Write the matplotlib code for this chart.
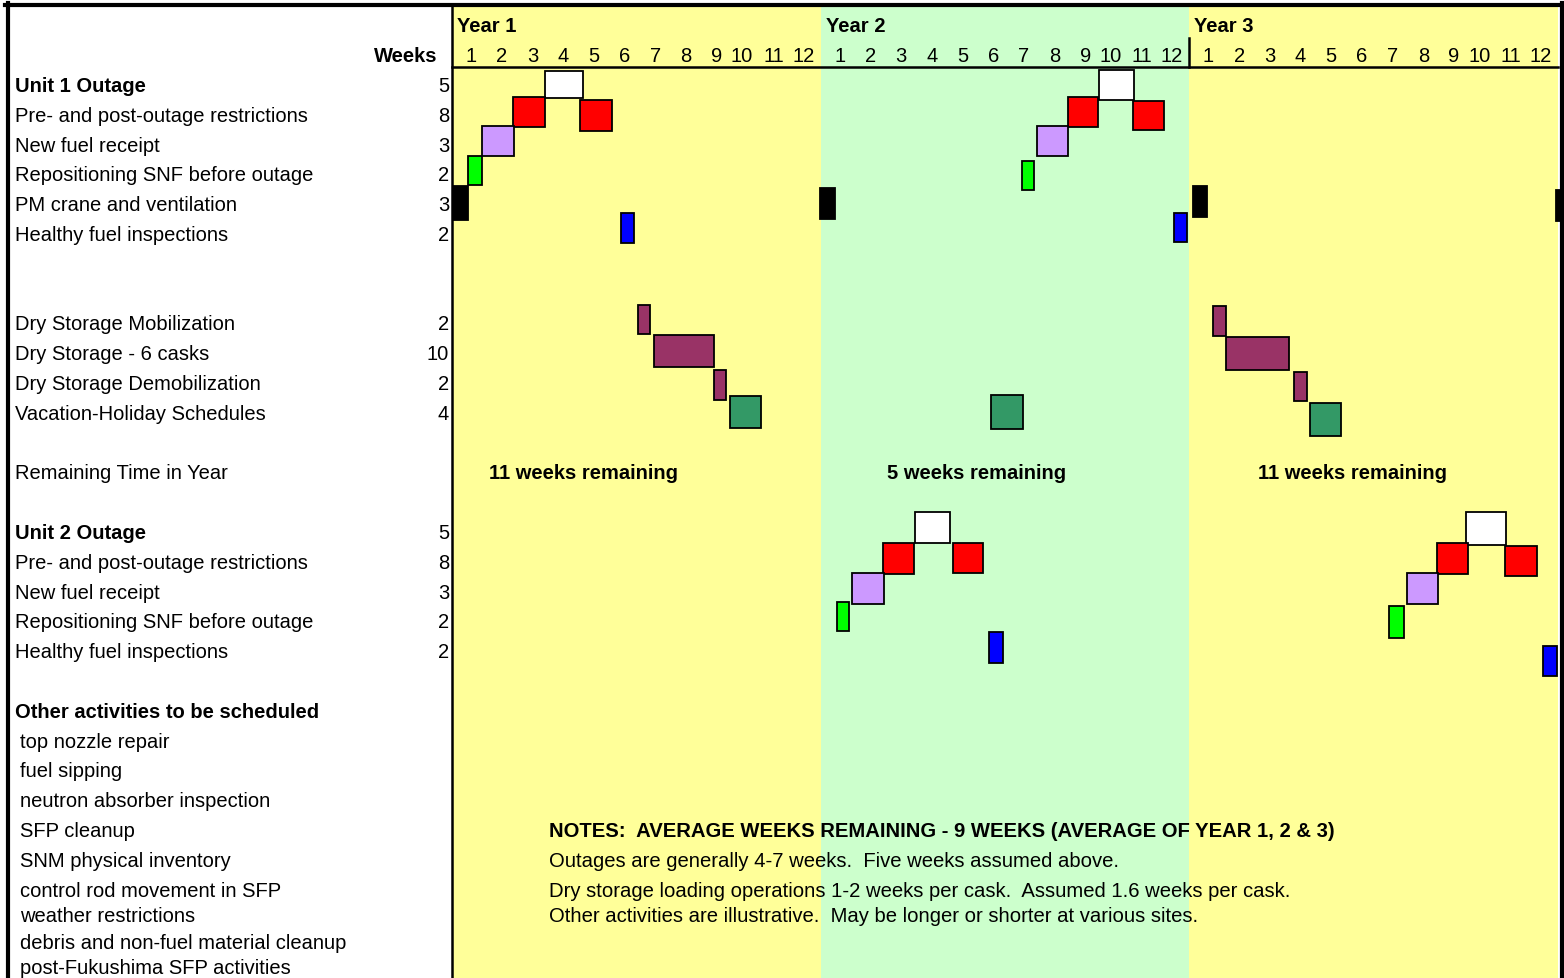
import matplotlib
matplotlib.use("Agg")
import matplotlib.pyplot as plt
from matplotlib.lines import Line2D
from matplotlib.transforms import blended_transform_factory

plt.rcParams['font.family'] = ['Liberation Sans', 'DejaVu Sans']

# --- data ---
years = ["Year 1", "Year 2", "Year 3"]
year_colors = ["#FFFF99", "#CCFFCC", "#FFFF99"]
month_labels = [str(m) for m in range(1, 13)]

row_labels = [
    "Unit 1 Outage", "Pre- and post-outage restrictions", "New fuel receipt",
    "Repositioning SNF before outage", "PM crane and ventilation", "Healthy fuel inspections",
    "Dry Storage Mobilization", "Dry Storage - 6 casks", "Dry Storage Demobilization",
    "Vacation-Holiday Schedules", "Remaining Time in Year",
    "Unit 2 Outage", "Pre- and post-outage restrictions", "New fuel receipt",
    "Repositioning SNF before outage", "Healthy fuel inspections",
    "Other activities to be scheduled",
]
row_pos = [2, 3, 4, 5, 6, 7, 10, 11, 12, 13, 15, 17, 18, 19, 20, 21, 23]
row_weeks = ["5", "8", "3", "2", "3", "2", "2", "10", "2", "4", "",
             "5", "8", "3", "2", "2", ""]
bold_rows = ["Unit 1 Outage", "Unit 2 Outage", "Other activities to be scheduled"]

other_activities = [
    "top nozzle repair", "fuel sipping", "neutron absorber inspection", "SFP cleanup",
    "SNM physical inventory", "control rod movement in SFP", "weather restrictions",
    "debris and non-fuel material cleanup", "post-Fukushima SFP activities",
]
other_pos = [24, 25, 26, 27, 28, 29, 29.86, 30.74, 31.58]

# bars: start (month column), length (months), row centre, row height, kind
bar_start = [3.03, 2.00, 4.17, 0.98, 0.53, 0.04, 11.98, 5.50,
             21.07, 20.04, 22.18, 19.04, 18.54, 23.50, 24.12, 35.95,
             6.04, 6.56, 8.52, 9.04, 17.55, 24.76, 25.18, 27.40, 27.93,
             15.07, 14.03, 16.31, 13.01, 12.52, 17.48,
             32.99, 32.07, 34.26, 31.07, 30.51, 35.52]
bar_len = [1.23, 1.03, 1.03, 1.04, 0.45, 0.47, 0.48, 0.44,
           1.14, 1.00, 0.99, 1.00, 0.41, 0.44, 0.47, 0.47,
           0.42, 1.96, 0.41, 1.01, 1.03, 0.44, 2.07, 0.44, 1.01,
           1.15, 1.02, 0.97, 1.04, 0.39, 0.45,
           1.32, 1.01, 1.06, 1.01, 0.48, 0.45]
bar_row = [1.96, 2.88, 3.00, 3.86, 4.84, 5.93, 5.96, 6.78,
           1.97, 2.88, 3.00, 3.86, 5.01, 6.76, 5.90, 6.04,
           9.85, 10.90, 12.05, 12.95, 12.95, 9.90, 11.00, 12.10, 13.20,
           16.82, 17.87, 17.84, 18.88, 19.82, 20.85,
           16.85, 17.87, 17.95, 18.88, 20.00, 21.30]
bar_height = [0.92, 1.00, 1.03, 1.00, 0.98, 1.13, 1.04, 1.00,
              1.02, 1.00, 0.98, 1.00, 0.98, 1.00, 1.04, 1.04,
              0.99, 1.09, 1.00, 1.09, 1.14, 1.00, 1.10, 1.00, 1.10,
              1.05, 1.02, 1.00, 1.05, 0.96, 1.02,
              1.10, 1.02, 1.00, 1.03, 1.05, 1.00]
bar_kind = ["outage", "restrict", "restrict", "fuel", "repos", "crane", "crane", "healthy",
            "outage", "restrict", "restrict", "fuel", "repos", "healthy", "crane", "crane",
            "dry", "dry", "dry", "vacation", "vacation", "dry", "dry", "dry", "vacation",
            "outage", "restrict", "restrict", "fuel", "repos", "healthy",
            "outage", "restrict", "restrict", "fuel", "repos", "healthy"]
kind_colors = {"outage": "#FFFFFF", "restrict": "#FF0000", "fuel": "#CC99FF",
               "repos": "#00FF00", "crane": "#000000", "healthy": "#0000FF",
               "dry": "#993366", "vacation": "#339966"}

remaining_text = ["11 weeks remaining", "5 weeks remaining", "11 weeks remaining"]
remaining_x = [4.27, 17.08, 29.3]
remaining_row = 15

notes = [
    "NOTES:  AVERAGE WEEKS REMAINING - 9 WEEKS (AVERAGE OF YEAR 1, 2 & 3)",
    "Outages are generally 4-7 weeks.  Five weeks assumed above.",
    "Dry storage loading operations 1-2 weeks per cask.  Assumed 1.6 weeks per cask.",
    "Other activities are illustrative.  May be longer or shorter at various sites.",
]
notes_row = [27, 28, 29, 29.86]

# --- layout (pixels of a 1564 x 979 figure) ---
W, H = 1564, 979
x0_px, x1_px = 452, 1558
col_px = (x1_px - x0_px) / 36
row0_px, row_px = 27, 29.8
FS = 14.5

fig = plt.figure(figsize=(W / 100, H / 100), dpi=100)
ax = fig.add_axes([0, 0, 1, 1])
ax.set_xlim(-x0_px / col_px, (W - x0_px) / col_px)
ax.set_ylim((H - row0_px) / row_px, -row0_px / row_px)
ax.axis("off")

left = blended_transform_factory(fig.transFigure, ax.transData)

def fx(px):
    return px / W

def fy(py):
    return 1 - py / H

# year bands
for i, c in enumerate(year_colors):
    ax.axvspan(12 * i, 12 * (i + 1), ymin=0, ymax=fy(6), color=c, lw=0, zorder=0)
    ax.text(12 * i + 0.16, 0, years[i], fontsize=FS, fontweight="bold", va="center", ha="left")
    for m, lab in enumerate(month_labels):
        ax.text(12 * i + m + 0.8, 1, lab, fontsize=FS, va="center", ha="right")

# header line and year 3 tick
hdr = (68 - row0_px) / row_px
ax.plot([0, 36], [hdr, hdr], color="black", lw=1.8, zorder=1)
ax.plot([24, 24], [(39 - row0_px) / row_px, hdr], color="black", lw=1.8, zorder=1)

# left labels
ax.text(fx(437), 1, "Weeks", transform=left, fontsize=FS, fontweight="bold", va="center", ha="right")
for lab, r, wk in zip(row_labels, row_pos, row_weeks):
    ax.text(fx(15), r, lab, transform=left, fontsize=FS, va="center", ha="left",
            fontweight="bold" if lab in bold_rows else "normal")
    if wk:
        ax.text(fx(449), r, wk, transform=left, fontsize=FS, va="center", ha="right")
for lab, r in zip(other_activities, other_pos):
    ax.text(fx(20.5), r, lab, transform=left, fontsize=FS, va="center", ha="left")

# bars
ax.barh(bar_row, bar_len, left=bar_start, height=bar_height,
        color=[kind_colors[k] for k in bar_kind], edgecolor="black", linewidth=1.3, zorder=3)

# remaining time
for t, x in zip(remaining_text, remaining_x):
    ax.text(x, remaining_row, t, fontsize=FS, fontweight="bold", va="center", ha="center")

# notes
for i, (t, r) in enumerate(zip(notes, notes_row)):
    ax.text(3.16, r, t, fontsize=14.6, va="center", ha="left",
            fontweight="bold" if i == 0 else "normal")

# borders
fig.add_artist(Line2D([fx(5), fx(W)], [fy(6), fy(6)], color="black", lw=3, transform=fig.transFigure))
fig.add_artist(Line2D([fx(7.5), fx(7.5)], [fy(4), 0], color="black", lw=3, transform=fig.transFigure))
fig.add_artist(Line2D([fx(1561.5), fx(1561.5)], [fy(4), 0], color="black", lw=3, transform=fig.transFigure))
fig.add_artist(Line2D([fx(452), fx(452)], [fy(6), 0], color="black", lw=1.8, transform=fig.transFigure))

fig.savefig("out.png", dpi=100)
